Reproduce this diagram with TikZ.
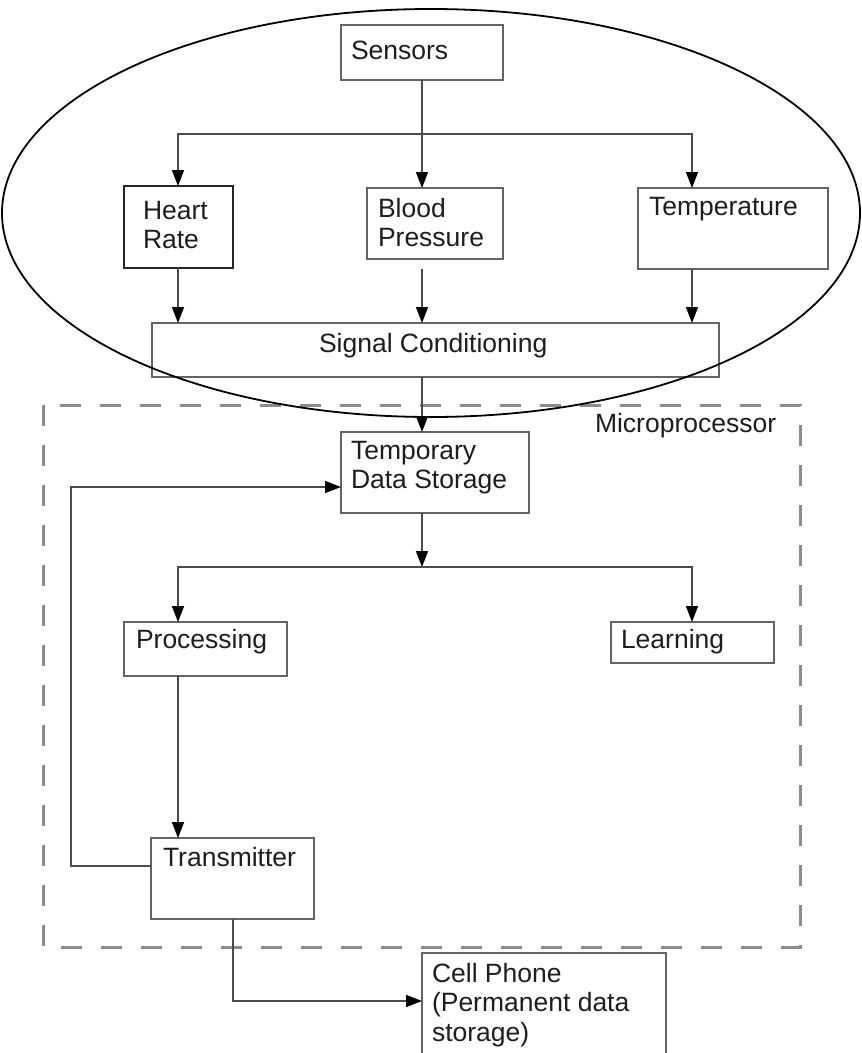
\documentclass[tikz,border=0pt]{standalone}
\usepackage{fontspec}
\setmainfont{Liberation Sans}
\usetikzlibrary{arrows.meta}
\definecolor{linec}{RGB}{75,75,75}
\definecolor{boxc}{RGB}{100,100,100}
\definecolor{dashc}{RGB}{140,140,140}
\definecolor{txtc}{RGB}{30,30,30}
\tikzset{
  box/.style={draw=boxc, line width=1.6pt, rectangle, inner sep=0pt, outer sep=0pt, anchor=north west},
  boxbold/.style={box, draw=black!85, line width=2.6pt},
  txt/.style={font=\fontsize{26.5}{29.5}\selectfont, text=txtc, inner sep=0pt, outer sep=0pt, align=left, anchor=north west},
  conn/.style={draw=linec, line width=1.5pt},
  arr/.style={conn, -{Triangle[length=16pt,width=12pt,color=black,fill=black]}},
  ell/.style={draw=black, line width=1.8pt},
  group/.style={draw=dashc, line width=3pt, dash pattern=on 21pt off 19pt}
}
\begin{document}
\begin{tikzpicture}[x=1pt,y=-1pt]
\useasboundingbox (0,0) rectangle (862,1053);
\fill[white] (0,0) rectangle (862,1053);

% dashed microprocessor region
\draw[group] (43,405) rectangle (800,947);
\node[txt] (micro) at (595,413) {Microprocessor};

% boxes
\node[box, minimum width=162pt, minimum height=55pt] (sensors) at (341,25) {};
\node[boxbold, minimum width=109pt, minimum height=82pt] (hr) at (124,186) {};
\node[box, minimum width=136pt, minimum height=71pt] (bp) at (367,188) {};
\node[box, minimum width=190pt, minimum height=81pt] (temp) at (638,188) {};
\node[box, minimum width=567pt, minimum height=54pt] (sc) at (152,323) {};
\node[box, minimum width=188pt, minimum height=81pt] (tds) at (341,432) {};
\node[box, minimum width=163pt, minimum height=54pt] (proc) at (124,622) {};
\node[box, minimum width=163pt, minimum height=41pt] (learn) at (611,622) {};
\node[box, minimum width=163pt, minimum height=81pt] (trans) at (151,838) {};
\node[box, minimum width=244pt, minimum height=120pt] (cell) at (422,953) {};

% texts
\node[txt] (sensorsT) at (351,41) {Sensors};
\node[txt] (hrT) at (143,201) {Heart\\Rate};
\node[txt] (bpT) at (378,198) {Blood\\Pressure};
\node[txt] (tempT) at (649,197) {Temperature};
\node[txt] (scT) at (319,333) {Signal Conditioning};
\node[txt] (tdsT) at (351,441) {Temporary\\Data Storage};
\node[txt] (procT) at (136,629) {Processing};
\node[txt] (learnT) at (621,629) {Learning};
\node[txt] (transT) at (163,847) {Transmitter};
\node[txt] (cellT) at (432,963) {Cell Phone\\(Permanent data\\storage)};

% coordinates
\coordinate (j1) at (422,134);
\coordinate (hrIn) at (178,186);
\coordinate (bpIn) at (422,188);
\coordinate (tempIn) at (692,188);
\coordinate (hrOut) at (178,268);
\coordinate (bpOut) at (422,269);
\coordinate (tempOut) at (692,269);
\coordinate (sc1) at (178,323);
\coordinate (sc2) at (422,323);
\coordinate (sc3) at (692,323);
\coordinate (scOut) at (422,377);
\coordinate (tdsIn) at (422,432);
\coordinate (tdsOut) at (422,513);
\coordinate (j2) at (422,567);
\coordinate (procIn) at (178,622);
\coordinate (learnIn) at (692,622);
\coordinate (procOut) at (178,676);
\coordinate (transIn) at (178,838);
\coordinate (transL) at (151,866);
\coordinate (fbC) at (71,866);
\coordinate (tdsL) at (341,487);
\coordinate (transOut) at (233,919);
\coordinate (cellL) at (422,1001);

% connectors
\draw[conn] (sensors.south) -- (j1);
\draw[arr] (j1) -- (bpIn);
\draw[arr] (j1) -| (hrIn);
\draw[arr] (j1) -| (tempIn);
\draw[arr] (hrOut) -- (sc1);
\draw[arr] (bpOut) -- (sc2);
\draw[arr] (tempOut) -- (sc3);
\draw[arr] (scOut) -- (tdsIn);
\draw[arr] (tdsOut) -- (j2);
\draw[arr] (j2) -| (procIn);
\draw[arr] (j2) -| (learnIn);
\draw[arr] (procOut) -- (transIn);
\draw[arr] (transL) -- (fbC) |- (tdsL);
\draw[arr] (transOut) |- (cellL);

% sensor ellipse
\draw[ell] (431,213) ellipse [x radius=429pt, y radius=204pt];
\end{tikzpicture}
\end{document}
